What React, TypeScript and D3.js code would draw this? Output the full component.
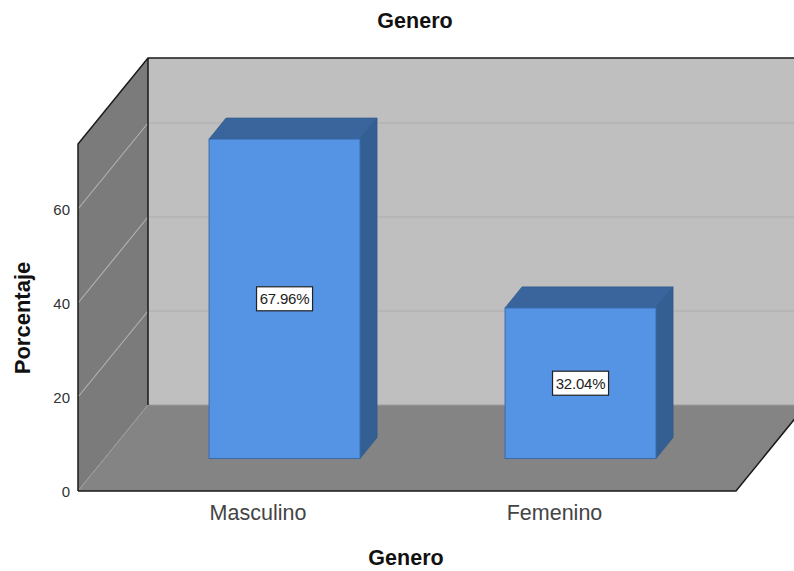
import React from "react";
import * as d3 from "d3";

const categories = ["Masculino", "Femenino"];
const percentages = [67.96, 32.04];
const percentLabels = ["67.96%", "32.04%"];
const yTicks = [0, 20, 40, 60];
const chartTitle = "Genero";
const xTitle = "Genero";
const yTitle = "Porcentaje";

const W = 794, H = 571;
const font = "'Liberation Sans', Arial, sans-serif";
// 3D box geometry
const frontLeft = 78, frontRight = 736, frontBottom = 491, frontTop = 144;
const depthX = 70, depthY = -86;
const barNearFrac = 0.372, barDepthX = 17, barDepthY = -21;

const y = d3.scaleLinear().domain([0, 73.83]).range([frontBottom, frontTop]);
const xFloor = d3.scalePoint<string>().domain(categories).range([258, 554.5]);
const xBar = d3.scaleBand<string>().domain(categories)
  .range([frontLeft + depthX * barNearFrac, frontRight + depthX * barNearFrac])
  .paddingInner(0.49).paddingOuter(0.3565);

const pts = (p: [number, number][]) => p.map((a) => a.join(",")).join(" ");

export default function App() {
  const barBase = frontBottom + depthY * barNearFrac - 0.5;
  const backRight = frontRight + depthX;
  const backBottom = frontBottom + depthY;
  const backTop = frontTop + depthY;
  const backLeft = frontLeft + depthX;
  return (
    <svg width={W} height={H} viewBox={`0 0 ${W} ${H}`}
      style={{ position: "absolute", left: 0, top: 0, background: "#fff" }} fontFamily={font}>
      {/* back wall */}
      <rect x={backLeft} y={backTop} width={W - backLeft} height={backBottom - backTop} fill="#bfbfbf" />
      {yTicks.slice(1).map((t) => (
        <line key={t} x1={backLeft} x2={W} y1={y(t) + depthY} y2={y(t) + depthY} stroke="#adadad" strokeWidth={1.2} />
      ))}
      {/* left wall */}
      <polygon points={pts([[frontLeft, frontBottom], [frontLeft, frontTop], [backLeft, backTop], [backLeft, backBottom]])} fill="#7b7b7b" />
      {yTicks.slice(1).map((t) => (
        <line key={t} x1={frontLeft} x2={backLeft} y1={y(t)} y2={y(t) + depthY} stroke="#b4b4b4" strokeWidth={1.1} />
      ))}
      {/* floor */}
      <polygon points={pts([[frontLeft, frontBottom], [backLeft, backBottom], [backRight, backBottom], [frontRight, frontBottom]])} fill="#848484" />
      <line x1={backLeft} x2={W} y1={backBottom} y2={backBottom} stroke="#9c9c9c" strokeWidth={1} />
      <line x1={frontLeft} y1={frontBottom} x2={backLeft} y2={backBottom} stroke="#a0a0a0" strokeWidth={1} />
      {/* outline */}
      <path d={`M${frontLeft},${frontBottom}V${frontTop}L${backLeft},${backTop}H${W}`} fill="none" stroke="#1a1a1a" strokeWidth={1.5} />
      <line x1={backLeft} x2={backLeft} y1={backTop} y2={backBottom} stroke="#1a1a1a" strokeWidth={1.5} />
      <path d={`M${frontLeft},${frontBottom}H${frontRight}L${backRight},${backBottom}`} fill="none" stroke="#1a1a1a" strokeWidth={1.5} />
      {/* bars */}
      {categories.map((c, i) => {
        const x0 = xBar(c)! - 0.5;
        const x1 = x0 + xBar.bandwidth();
        const top = y(percentages[i]) + depthY * barNearFrac - 0.5;
        const cx = (x0 + x1) / 2;
        const cy = (top + barBase) / 2;
        return (
          <g key={c}>
            <polygon points={pts([[x0, top], [x0 + barDepthX, top + barDepthY], [x1 + barDepthX, top + barDepthY], [x1, top]])}
              fill="#39659c" stroke="#2f5a8f" strokeWidth={0.8} />
            <polygon points={pts([[x1, top], [x1 + barDepthX, top + barDepthY], [x1 + barDepthX, barBase + barDepthY], [x1, barBase]])}
              fill="#345f92" stroke="#2f5a8f" strokeWidth={0.8} />
            <rect x={x0} y={top} width={x1 - x0} height={barBase - top} fill="#5593e5" stroke="#3a6cab" strokeWidth={1} />
            <rect x={cx - 28} y={cy - 12} width={56} height={24} fill="#fff" stroke="#222" strokeWidth={1.2} />
            <text x={cx} y={cy + 5.5} textAnchor="middle" fontSize={15} letterSpacing={-0.2} fill="#222">{percentLabels[i]}</text>
          </g>
        );
      })}
      {/* y ticks */}
      {yTicks.map((t) => (
        <text key={t} x={70} y={y(t) + 5.5} textAnchor="end" fontSize={15} fill="#333">{t}</text>
      ))}
      {/* x labels */}
      {categories.map((c) => (
        <text key={c} x={xFloor(c)!} y={519.5} textAnchor="middle" fontSize={21.5} fill="#444">{c}</text>
      ))}
      <text x={415} y={27.5} textAnchor="middle" fontSize={21.5} fontWeight="bold" fill="#111">{chartTitle}</text>
      <text x={406} y={565} textAnchor="middle" fontSize={21.5} fontWeight="bold" fill="#111">{xTitle}</text>
      <text transform="translate(30,318) rotate(-90)" textAnchor="middle" fontSize={22} fontWeight="bold" fill="#111">{yTitle}</text>
    </svg>
  );
}
